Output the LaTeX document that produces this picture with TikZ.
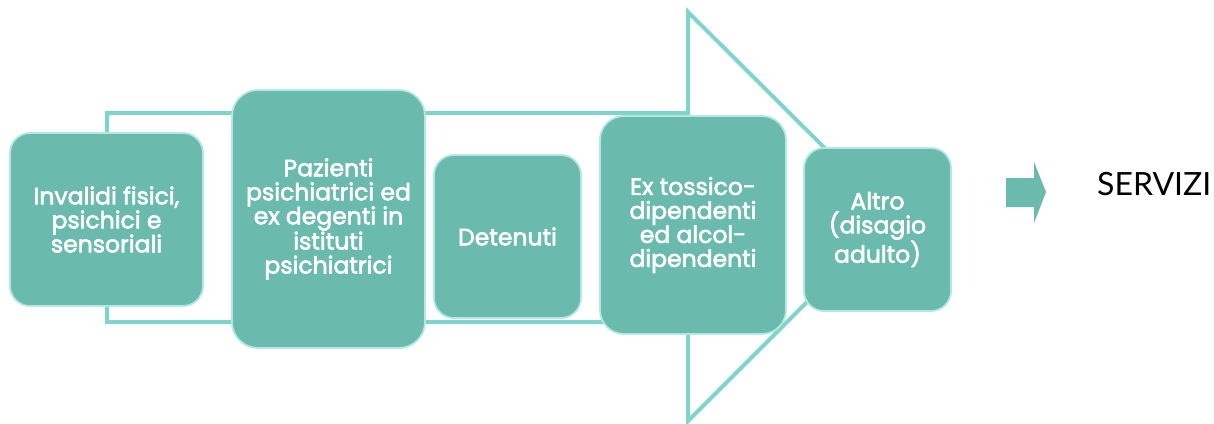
\documentclass[tikz,border=0pt]{standalone}
\usepackage{fontspec}
\newfontfamily\boxfont[FakeBold=2.5]{Poppins}
\newfontfamily\latofont{Lato}
\definecolor{boxfill}{HTML}{6BBAAE}
\definecolor{boxedge}{HTML}{B3E9E1}
\definecolor{arrowline}{HTML}{80D4CA}
\begin{document}
\begin{tikzpicture}[x=1pt,y=-1pt,
  box/.style={draw=boxedge, line width=1.8pt, fill=boxfill, rounded corners=20pt,
    text=white, align=center, inner sep=0pt,
    font=\boxfont\fontsize{23.5}{24}\selectfont}]
\useasboundingbox (0,0) rectangle (1214,423);
\draw[arrowline, line width=4pt, fill=white]
  (107,113) -- (688,113) -- (688,12) -- (893,216) -- (688,421) -- (688,322) -- (107,322) -- cycle;
\node[box, minimum width=193pt, minimum height=173pt] (b1) at (106.5,219.5)
  {Invalidi fisici,\\psichici e\\sensoriali};
\node[box, minimum width=193pt, minimum height=258pt, rounded corners=26pt] (b2) at (328.5,219)
  {Pazienti\\psichiatrici ed\\ex degenti in\\istituti\\psichiatrici};
\node[box, minimum width=147pt, minimum height=163pt] (b3) at (507.5,236.5) {Detenuti};
\node[box, minimum width=186pt, minimum height=218pt, rounded corners=24pt] (b4) at (693,225)
  {Ex tossico-\\dipendenti\\ed alcol-\\dipendenti};
\node[box, minimum width=147pt, minimum height=163pt] (b5) at (877.5,229.5)
  {Altro\\(disagio\\adulto)};
\fill[boxfill] (1006,178) -- (1034,178) -- (1034,162) -- (1046,192) -- (1034,223) -- (1034,207) -- (1006,207) -- cycle;
\node[anchor=base west, inner sep=0pt, font=\latofont\fontsize{32}{36}\selectfont, text=black] (serv) at (1097,195) {SERVIZI};
\end{tikzpicture}
\end{document}
